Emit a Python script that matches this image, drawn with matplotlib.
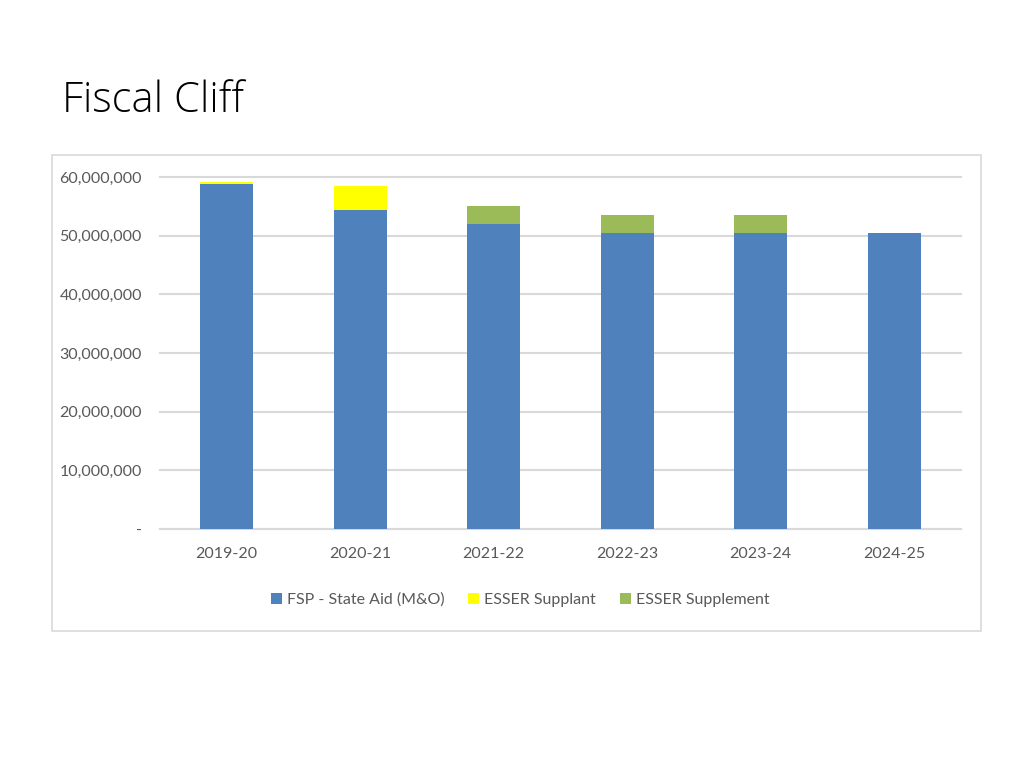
import numpy as np
from matplotlib import pyplot as plt
from matplotlib.patches import Rectangle

years = ['2019-20', '2020-21', '2021-22', '2022-23', '2023-24', '2024-25']
state_aid = [58.8e6, 54.3e6, 52.0e6, 50.5e6, 50.5e6, 50.5e6]
esser_supplant = [0.35e6, 4.2e6, 0, 0, 0, 0]
esser_supplement = [0, 0, 3.05e6, 3.0e6, 3.0e6, 0]
yticks = [0, 10e6, 20e6, 30e6, 40e6, 50e6, 60e6]

narrow = ['Lato', 'DejaVu Sans']
grey = '#595959'
grid = '#D9D9D9'

fig = plt.figure(figsize=(10.24, 7.68), dpi=100)
fig.text(62/1024, 1 - 101/768, 'Fiscal Cliff', fontsize=30, family=['Open Sans', 'DejaVu Sans'],
         fontweight='light', va='center', ha='left', color='#000000')

# chart frame
fig.patches.append(Rectangle((52/1024, 1 - 631/768), 929/1024, 476/768, transform=fig.transFigure,
                             fill=False, edgecolor=grid, linewidth=1.2))

ax = fig.add_axes([160/1024, 1 - 529/768, 801/1024, 352/768])
x = np.arange(len(years))
w = 0.4
ax.bar(x, state_aid, w, color='#4F81BD', label='FSP - State Aid (M&O)', zorder=3)
b2 = np.array(state_aid)
ax.bar(x, esser_supplant, w, bottom=b2, color='#FFFF00', label='ESSER Supplant', zorder=3)
b3 = b2 + np.array(esser_supplant)
ax.bar(x, esser_supplement, w, bottom=b3, color='#9BBB59', label='ESSER Supplement', zorder=3)

ax.set_xlim(-0.5, len(years) - 0.5)
ax.set_ylim(0, 60e6)
ax.set_yticks(yticks)
ax.set_yticklabels(['-' if v == 0 else '{:,.0f}'.format(v) for v in yticks])
ax.set_xticks(x)
ax.set_xticklabels(years)
for lab in ax.get_xticklabels() + ax.get_yticklabels():
    lab.set_family(narrow)
    lab.set_fontsize(11.5)
    lab.set_color(grey)
ax.tick_params(axis='both', length=0)
ax.tick_params(axis='y', pad=13)
ax.tick_params(axis='x', pad=13)
ax.yaxis.grid(True, color=grid, linewidth=1.5, zorder=0)
for gl in ax.get_ygridlines():
    gl.set_clip_on(False)
for s in ['top', 'right', 'left']:
    ax.spines[s].set_visible(False)
ax.spines['bottom'].set_color(grid)
ax.spines['bottom'].set_linewidth(1.5)

leg = fig.legend(loc='center', bbox_to_anchor=(520/1024, 1 - 600/768), ncol=3, frameon=False,
                 handlelength=0.7, handleheight=0.7, handletextpad=0.3, columnspacing=1.5,
                 prop={'family': narrow, 'size': 11.5})
for t in leg.get_texts():
    t.set_color(grey)

plt.savefig('out.png', dpi=100)
